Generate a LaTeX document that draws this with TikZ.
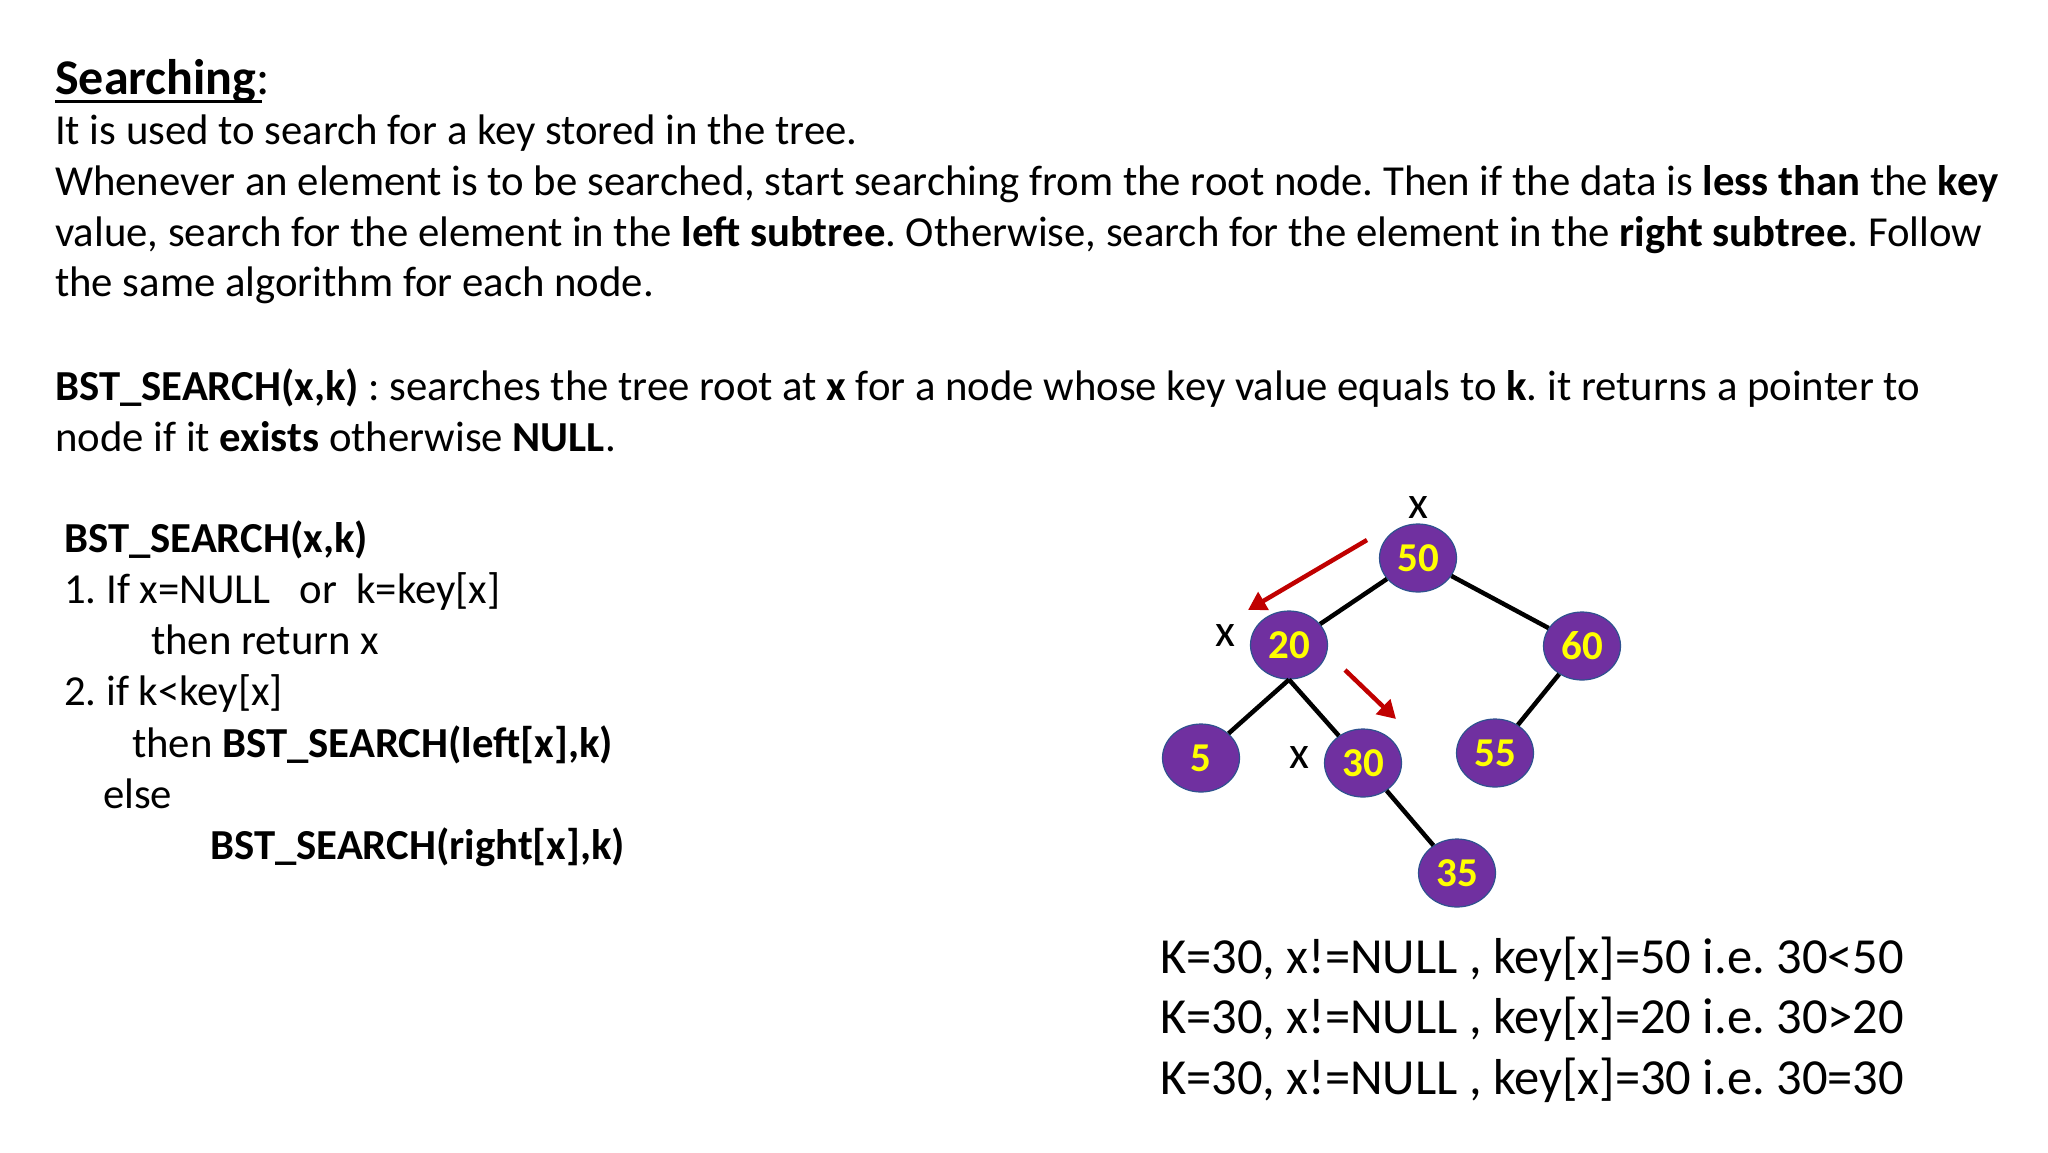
\documentclass[tikz,border=0pt]{standalone}
\usepackage{fontspec}
\setmainfont{Carlito}
\usetikzlibrary{shapes.geometric,arrows.meta}
\definecolor{nodefill}{HTML}{7030A0}
\definecolor{nodeedge}{HTML}{2F528F}
\definecolor{arrred}{HTML}{C00000}
\definecolor{yel}{HTML}{FFFF00}
\frenchspacing
\begin{document}
\begin{tikzpicture}[x=1pt,y=-1pt,
  txt/.style={anchor=base west,inner sep=0pt,font=\fontsize{42.75}{50}\selectfont},
  big/.style={anchor=base west,inner sep=0pt,font=\fontsize{50.5}{60}\selectfont},
  bn/.style={ellipse,draw=nodeedge,line width=1.2pt,fill=nodefill,minimum width=77pt,minimum height=68pt,inner sep=0pt,font=\fontsize{41}{40}\selectfont\bfseries,text=yel},
  lx/.style={inner sep=0pt,font=\fontsize{46}{50}\selectfont},
  edge/.style={line width=4.5pt},
  redarr/.style={draw=arrred,line width=4.5pt,-{Triangle[length=18pt,width=20pt]}}]
\useasboundingbox (0,0) rectangle (2048,1152);
\node[anchor=base west,inner sep=0pt,font=\fontsize{50}{60}\selectfont] (t) at (55,94) {\textbf{Searching}:};
\draw[line width=3pt] (55,101) -- (262,101);
\node[txt] (l1) at (55,144) {It is used to search for a key stored in the tree.};
\node[txt] (l2) at (55,195) {Whenever an element is to be searched, start searching from the root node. Then if the data is \textbf{less than} the \textbf{key}};
\node[txt] (l3) at (55,246) {value, search for the element in the \textbf{left subtree}. Otherwise, search for the element in the \textbf{right subtree}. Follow};
\node[txt] (l4) at (55,296) {the same algorithm for each node.};
\node[txt] (l5) at (55,400) {\textbf{BST\_SEARCH(x,k)} : searches the tree root at \textbf{x} for a node whose key value equals to \textbf{k}. it returns a pointer to};
\node[txt] (l6) at (55,451) {node if it \textbf{exists} otherwise \textbf{NULL}.};
\node[txt] (c1) at (64,552) {\textbf{BST\_SEARCH(x,k)}};
\node[txt] (c2) at (64,603) {1. If x=NULL\ \ \ or\ \ k=key[x]};
\node[txt] (c3) at (151,654) {then return x};
\node[txt] (c4) at (64,705) {2. if k<key[x]};
\node[txt] (c5) at (132,757) {then \textbf{BST\_SEARCH(left[x],k)}};
\node[txt] (c6) at (103,808) {else};
\node[txt] (c7) at (210,859) {\textbf{BST\_SEARCH(right[x],k)}};
\node[big] (b1) at (1160,973) {K=30, x!=NULL , key[x]=50 i.e. 30<50};
\node[big] (b2) at (1160,1033) {K=30, x!=NULL , key[x]=20 i.e. 30>20};
\node[big] (b3) at (1160,1094) {K=30, x!=NULL , key[x]=30 i.e. 30=30};
\node[bn] (n50) at (1418,558) {50};
\node[bn] (n20) at (1289,645) {20};
\node[bn] (n60) at (1582,646) {60};
\node[bn] (n5) at (1201,758) {5};
\node[bn] (n30) at (1363,763) {30};
\node[bn] (n55) at (1495,753) {55};
\node[bn] (n35) at (1457,873) {35};
\draw[edge] (n50) -- (n20);
\draw[edge] (n50) -- (n60);
\draw[edge] (n20.south) -- (n5);
\draw[edge] (n20.south) -- (n30);
\draw[edge] (n60) -- (n55);
\draw[edge] (n30) -- (n35);
\node[lx] (x1) at (1418,508) {x};
\node[lx] (x2) at (1225,636) {x};
\node[lx] (x3) at (1299,758) {x};
\coordinate (a1s) at (1367,540); \coordinate (a1e) at (1248,610);
\coordinate (a2s) at (1345,670); \coordinate (a2e) at (1396,719);
\draw[redarr] (a1s) -- (a1e);
\draw[redarr] (a2s) -- (a2e);
\end{tikzpicture}
\end{document}
